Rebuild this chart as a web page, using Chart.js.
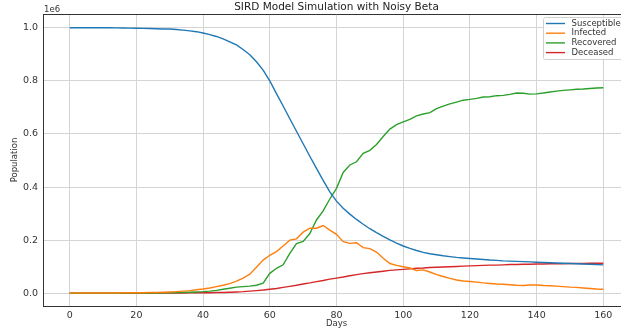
<!DOCTYPE html>
<html>
<head>
<meta charset="utf-8">
<script src="https://cdn.jsdelivr.net/npm/chart.js@4.4.1/dist/chart.umd.min.js"></script>
<style>
  html, body { margin: 0; padding: 0; background: #fff; overflow: hidden; }
  #wrap { position: absolute; left: 0; top: 0; width: 640px; height: 331px; }
</style>
</head>
<body>
<div id="wrap"><canvas id="chart"></canvas></div>
<script>
"use strict";

// days, sampled every 2 days (0..160)
var days = [];
for (var d = 0; d <= 160; d += 2) days.push(d);

// population in millions (axis shows 1e6 offset)
var susceptible = [
    1.000, 1.000, 1.000, 1.000, 1.000, 0.9997, 0.9996, 0.9994, 0.999, 0.9985,
    0.998, 0.9975, 0.997, 0.996, 0.995, 0.995, 0.993, 0.991, 0.988, 0.985,
    0.980, 0.974, 0.967, 0.958, 0.947, 0.935, 0.918, 0.898, 0.872, 0.840,
    0.800, 0.752, 0.705, 0.657, 0.610, 0.563, 0.516, 0.470, 0.425, 0.382,
    0.347, 0.320, 0.298, 0.278, 0.260, 0.243, 0.228, 0.214, 0.201, 0.189,
    0.178, 0.169, 0.161, 0.154, 0.149, 0.145, 0.141, 0.138, 0.135, 0.133,
    0.131, 0.129, 0.127, 0.125, 0.124, 0.122, 0.121, 0.120, 0.119, 0.118,
    0.117, 0.116, 0.115, 0.114, 0.113, 0.112, 0.111, 0.110, 0.109, 0.108,
    0.107
];
var infected = [
    0.001, 0.001, 0.001, 0.001, 0.001, 0.001, 0.001, 0.001, 0.002, 0.002,
    0.002, 0.002, 0.003, 0.003, 0.004, 0.005, 0.006, 0.008, 0.010, 0.013,
    0.016, 0.020, 0.025, 0.030, 0.036, 0.046, 0.057, 0.072, 0.098, 0.125,
    0.143, 0.157, 0.178, 0.200, 0.205, 0.230, 0.245, 0.245, 0.255, 0.238,
    0.222, 0.194, 0.188, 0.190, 0.172, 0.168, 0.155, 0.132, 0.112, 0.105,
    0.100, 0.095, 0.086, 0.088, 0.080, 0.070, 0.063, 0.056, 0.050, 0.046,
    0.044, 0.042, 0.039, 0.037, 0.035, 0.034, 0.032, 0.030, 0.029, 0.031,
    0.031, 0.029, 0.028, 0.027, 0.025, 0.023, 0.022, 0.020, 0.018, 0.016,
    0.015
];
var recovered = [
    0.000, 0.000, 0.000, 0.000, 0.000, 0.000, 0.000, 0.000, 0.001, 0.001,
    0.001, 0.001, 0.001, 0.001, 0.002, 0.002, 0.003, 0.003, 0.004, 0.005,
    0.006, 0.008, 0.011, 0.015, 0.019, 0.023, 0.025, 0.027, 0.030, 0.038,
    0.075, 0.094, 0.107, 0.150, 0.187, 0.195, 0.225, 0.276, 0.310, 0.355,
    0.395, 0.455, 0.483, 0.495, 0.527, 0.538, 0.560, 0.590, 0.618, 0.635,
    0.645, 0.655, 0.668, 0.675, 0.680, 0.695, 0.705, 0.713, 0.720, 0.727,
    0.730, 0.734, 0.739, 0.740, 0.744, 0.745, 0.749, 0.754, 0.753, 0.750,
    0.751, 0.754, 0.758, 0.761, 0.764, 0.766, 0.768, 0.769, 0.771, 0.773,
    0.774
];
var deceased = [
    0.000, 0.000, 0.000, 0.000, 0.000, 0.000, 0.000, 0.000, 0.000, 0.000,
    0.000, 0.000, 0.000, 0.001, 0.001, 0.001, 0.001, 0.001, 0.002, 0.002,
    0.002, 0.002, 0.003, 0.003, 0.004, 0.005, 0.006, 0.008, 0.010, 0.012,
    0.015, 0.018, 0.022, 0.026, 0.030, 0.035, 0.039, 0.044, 0.048, 0.053,
    0.057, 0.061, 0.066, 0.070, 0.074, 0.077, 0.080, 0.083, 0.086, 0.088,
    0.090, 0.092, 0.094, 0.095, 0.097, 0.098, 0.099, 0.100, 0.101, 0.102,
    0.103, 0.104, 0.105, 0.106, 0.106, 0.107, 0.108, 0.108, 0.109, 0.109,
    0.110, 0.110, 0.111, 0.111, 0.111, 0.112, 0.112, 0.112, 0.113, 0.113,
    0.113
];

var seriesNames = ['Susceptible', 'Infected', 'Recovered', 'Deceased'];
var seriesColors = ['#1f77b4', '#ff7f0e', '#2ca02c', '#d62728'];
var xTicks = [0, 20, 40, 60, 80, 100, 120, 140, 160];
var yTicks = [0.0, 0.2, 0.4, 0.6, 0.8, 1.0];

var FONT = '"DejaVu Sans", sans-serif';

function pts(vals) {
    return vals.map(function (v, i) { return { x: days[i], y: v }; });
}

var allSeries = [susceptible, infected, recovered, deceased];
var datasets = allSeries.map(function (vals, i) {
    return {
        label: seriesNames[i],
        data: pts(vals),
        borderColor: seriesColors[i],
        backgroundColor: seriesColors[i],
        borderWidth: 1.4,
        pointRadius: 0,
        tension: 0,
        fill: false
    };
});

// title, 1e6 offset, top spine and legend box
var decor = {
    id: 'decor',
    afterDraw: function (chart) {
        var c = chart.ctx, a = chart.chartArea;
        c.save();
        c.strokeStyle = '#333';
        c.lineWidth = 1;
        c.beginPath();
        c.moveTo(a.left, a.top + 0.5);
        c.lineTo(a.right, a.top + 0.5);
        c.stroke();

        c.fillStyle = '#222';
        c.font = '10.5px ' + FONT;
        c.textAlign = 'center';
        c.textBaseline = 'middle';
        c.fillText('SIRD Model Simulation with Noisy Beta', (a.left + a.right) / 2, 7);

        c.font = '8.5px ' + FONT;
        c.textAlign = 'left';
        c.fillStyle = '#333';
        c.fillText('1e6', a.left + 1, 10);

        // legend
        var lx = 543.5, ly = 17.5, lw = 90, lh = 42;
        c.fillStyle = 'rgba(255,255,255,0.85)';
        c.strokeStyle = '#d0d0d0';
        c.beginPath();
        c.roundRect(lx, ly, lw, lh, 2);
        c.fill();
        c.stroke();
        c.font = '8.5px ' + FONT;
        c.textBaseline = 'middle';
        chart.data.datasets.forEach(function (ds, i) {
            var y = 23.5 + i * 9.7;
            c.strokeStyle = ds.borderColor;
            c.lineWidth = 1.4;
            c.beginPath();
            c.moveTo(546, y);
            c.lineTo(565, y);
            c.stroke();
            c.fillStyle = '#333';
            c.fillText(ds.label, 571.5, y);
        });
        c.restore();
    }
};

var ctx = document.getElementById('chart').getContext('2d');
var myChart = new Chart(ctx, {
    type: 'line',
    data: { datasets: datasets },
    options: {
        responsive: true,
        maintainAspectRatio: false,
        animation: false,
        layout: { padding: { top: 14, right: 10, left: 0, bottom: 0 } },
        plugins: {
            legend: { display: false },
            tooltip: { enabled: false }
        },
        scales: {
            x: {
                type: 'linear',
                min: -8,
                max: 168,
                afterFit: function (s) { s.height = 25; },
                afterBuildTicks: function (s) {
                    s.ticks = xTicks.map(function (v) { return { value: v }; });
                },
                grid: { color: '#d4d4d4', lineWidth: 1, drawTicks: false },
                border: { color: '#333', width: 1 },
                ticks: {
                    padding: 4,
                    color: '#333',
                    font: { family: FONT, size: 9.5 },
                    maxRotation: 0,
                    callback: function (v) { return String(v); }
                },
                title: {
                    display: true,
                    text: 'Days',
                    color: '#333',
                    font: { family: FONT, size: 8.5 },
                    padding: { top: 0, bottom: 2 }
                }
            },
            y: {
                type: 'linear',
                min: -0.048,
                max: 1.0516,
                afterFit: function (s) { s.width = 43; },
                afterBuildTicks: function (s) {
                    s.ticks = yTicks.map(function (v) { return { value: v }; });
                },
                grid: { color: '#d4d4d4', lineWidth: 1, drawTicks: false },
                border: { color: '#333', width: 1 },
                ticks: {
                    padding: 5,
                    color: '#333',
                    font: { family: FONT, size: 9.5 },
                    callback: function (v) { return v.toFixed(1); }
                },
                title: {
                    display: true,
                    text: 'Population',
                    color: '#333',
                    font: { family: FONT, size: 8.5 },
                    padding: { top: 10, bottom: 0 }
                }
            }
        }
    },
    plugins: [decor]
});
</script>
</body>
</html>
